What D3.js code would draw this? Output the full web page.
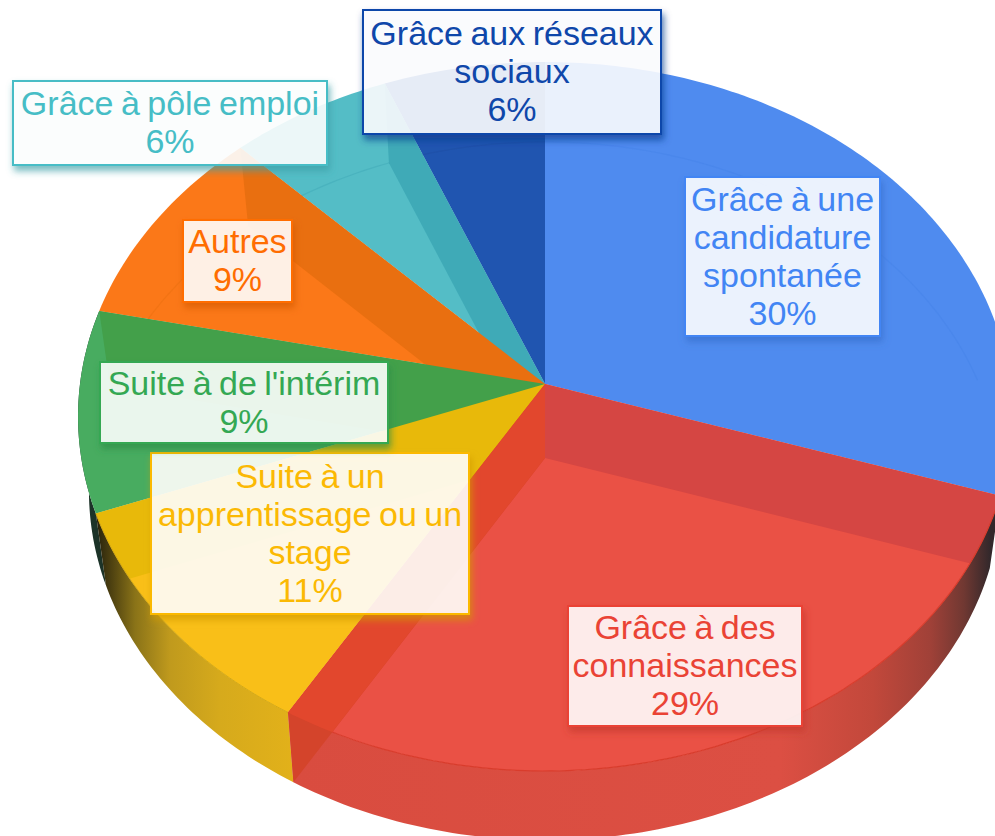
<!DOCTYPE html>
<meta charset="utf-8">
<style>
html, body { margin: 0; padding: 0; background: #fff; overflow: hidden; }
svg { display: block; }
.label text { font: 34px "Liberation Sans", Arial, sans-serif; text-anchor: middle; word-spacing: -2px; }
</style>
<body>
<svg width="995" height="836"></svg>
<script src="https://d3js.org/d3.v7.min.js"></script>
<script>
// values, the labels show them rounded
var categories = ["Grâce à une candidature spontanée", "Grâce à des connaissances", "Suite à un apprentissage ou un stage",
                  "Suite à de l'intérim", "Autres", "Grâce à pôle emploi", "Grâce aux réseaux sociaux"];
var values = [30.0, 28.5, 10.7, 9.2, 9.3, 6.2, 6.1];

var labelLines = [
  ["Grâce à une", "candidature", "spontanée"],
  ["Grâce à des", "connaissances"],
  ["Suite à un", "apprentissage ou un", "stage"],
  ["Suite à de l'intérim"],
  ["Autres"],
  ["Grâce à pôle emploi"],
  ["Grâce aux réseaux", "sociaux"]
];

var labelColors = ["#4285f4", "#ea4335", "#fbb903", "#34a853", "#ff6d01", "#46bdc6", "#0f47aa"];
var faceColors  = ["#4f8bef", "#ea5145", "#f9bf18", "#48ac60", "#fb7818", "#54bdc6", "#2055b0"];
var wallColors  = ["#4683ea", "#d54643", "#e8b90a", "#43a04a", "#e96f10", "#3faab7", "#1d4ea3"];

// label boxes: left, top, width, height
var labelBoxes = [
  [685, 177, 195, 159],
  [568, 606, 234, 120],
  [151, 453, 318, 161],
  [100, 362, 288, 81],
  [183, 220, 109, 82],
  [13, 81, 314, 84],
  [363, 10, 298, 124]
];

// the two perspective discs of the pie, top face and bottom face
var topDisc = { cx: 545, cy: 384, R: 465, S: 351.5, k: 0.0917 };
var botDisc = { cx: 545, cy: 458, R: 454, S: 346, k: 0.0946 };

var svg = d3.select("svg");
var defs = svg.append("defs");
var line = d3.line();

function rim(disc, a) {
  var u = Math.sin(a), v = Math.cos(a), d = 1 + disc.k * v;
  return [disc.cx + disc.R * u / d, disc.cy - disc.S * v / d];
}

function arcPoints(disc, a0, a1) {
  var n = Math.max(2, Math.ceil(Math.abs(a1 - a0) * 60));
  return d3.range(n + 1).map(function(i) { return rim(disc, a0 + (a1 - a0) * i / n); });
}

function apex(disc) { return [disc.cx, disc.cy]; }

function facePath(d) {
  return line([apex(topDisc)].concat(arcPoints(topDisc, d.startAngle, d.endAngle))) + "Z";
}

function wallPath(a) {
  return line([apex(topDisc), rim(topDisc, a), rim(botDisc, a), apex(botDisc)]) + "Z";
}

function sidePath(d) {
  return line(arcPoints(topDisc, d.startAngle, d.endAngle).concat(arcPoints(botDisc, d.endAngle, d.startAngle))) + "Z";
}

var slices = d3.pie().sort(null)(values);

defs.append("clipPath").attr("id", "top-clip")
  .append("path").attr("d", line(arcPoints(topDisc, 0, 2 * Math.PI)) + "Z");

function sideGradient(id, stops) {
  var g = defs.append("linearGradient").attr("id", id)
    .attr("gradientUnits", "userSpaceOnUse")
    .attr("x1", 0).attr("x2", 995).attr("y1", 0).attr("y2", 0);
  stops.forEach(function(s) {
    g.append("stop").attr("offset", s[0] / 995).attr("stop-color", s[1]);
  });
  return "url(#" + id + ")";
}

var redSide = sideGradient("side-red", [[290, "#d94c3f"], [780, "#dc4f43"], [873, "#c2483b"], [930, "#a04138"], [964, "#703832"], [990, "#33282b"]]);
var yellowSide = sideGradient("side-yellow", [[92, "#1c190b"], [110, "#4a3e10"], [135, "#8a7318"], [170, "#c09a1d"], [220, "#d6aa1c"], [294, "#e2b11a"]]);

// dark sliver on the left, under the green slice
svg.append("path").attr("d", sidePath(slices[3])).attr("fill", "#1c3328");

// top faces
svg.append("g").selectAll("path")
  .data(slices)
  .enter().append("path")
    .attr("d", facePath)
    .attr("fill", function(d, i) { return faceColors[i]; });

// faint rim of the bottom face, seen through the back of the pie
svg.append("g").selectAll("path")
  .data(slices)
  .enter().append("path")
    .attr("d", function(d) {
      var pts = arcPoints(botDisc, d.startAngle, d.endAngle).filter(function(p) { return p[1] < 385; });
      return pts.length > 1 ? line(pts) : null;
    })
    .attr("fill", "none")
    .attr("stroke", function(d, i) { return wallColors[i]; })
    .attr("stroke-opacity", 0.5)
    .attr("stroke-width", 1.2);

// radial walls, back ones first
var walls = svg.append("g").attr("clip-path", "url(#top-clip)");
[5, 4, 3, 2].forEach(function(i) {
  walls.append("path").attr("d", wallPath(slices[i].endAngle)).attr("fill", wallColors[i]);
});
walls.append("path").attr("d", wallPath(slices[1].startAngle)).attr("fill", wallColors[1]);

// outer side of the pie
svg.append("path").attr("d", sidePath(slices[2])).attr("fill", yellowSide);
svg.append("path").attr("d", sidePath(slices[1])).attr("fill", redSide);
svg.append("path").attr("d", line(arcPoints(topDisc, slices[1].startAngle + 0.04, slices[1].endAngle)))
  .attr("fill", "none").attr("stroke", "#d93c2c").attr("stroke-width", 1.2);
svg.append("path").attr("d", line(arcPoints(topDisc, slices[2].startAngle, slices[2].endAngle)))
  .attr("fill", "none").attr("stroke", "#d6a912").attr("stroke-width", 1);

// red end wall shows through the side too
var redEnd = wallPath(slices[1].endAngle);
svg.append("path").attr("d", redEnd).attr("fill", "#d4442b");
svg.append("path").attr("d", redEnd).attr("fill", "#e2472d").attr("clip-path", "url(#top-clip)");

// labels
categories.forEach(function(name, i) {
  var color = labelColors[i];
  var f = defs.append("filter").attr("id", "shadow-" + i)
    .attr("x", "-20%").attr("y", "-20%").attr("width", "140%").attr("height", "150%");
  f.append("feGaussianBlur").attr("in", "SourceAlpha").attr("stdDeviation", 3.5).attr("result", "blur");
  f.append("feOffset").attr("in", "blur").attr("dx", 2).attr("dy", 5).attr("result", "off");
  f.append("feFlood").attr("flood-color", d3.color(color).darker(0.5)).attr("flood-opacity", 0.75);
  f.append("feComposite").attr("in2", "off").attr("operator", "in").attr("result", "tint");
  f.append("feComposite").attr("in", "tint").attr("in2", "SourceAlpha").attr("operator", "out").attr("result", "outer");
  var merge = f.append("feMerge");
  merge.append("feMergeNode").attr("in", "outer");
  merge.append("feMergeNode").attr("in", "SourceGraphic");

  var box = labelBoxes[i];
  var g = svg.append("g").attr("class", "label");
  g.append("rect")
    .attr("x", box[0]).attr("y", box[1])
    .attr("width", box[2]).attr("height", box[3])
    .attr("fill", d3.interpolateRgb("#fff", color)(0.015))
    .attr("fill-opacity", 0.9)
    .attr("stroke", color)
    .attr("stroke-width", 2)
    .attr("filter", "url(#shadow-" + i + ")");

  var rows = labelLines[i].concat([Math.round(values[i]) + "%"]);
  var firstRow = box[1] + box[3] / 2 - rows.length * 19 + 30;
  g.selectAll("text")
    .data(rows)
    .enter().append("text")
      .attr("x", box[0] + box[2] / 2)
      .attr("y", function(d, j) { return firstRow + j * 38; })
      .attr("fill", color)
      .text(function(d) { return d; });
});
</script>
</body>
